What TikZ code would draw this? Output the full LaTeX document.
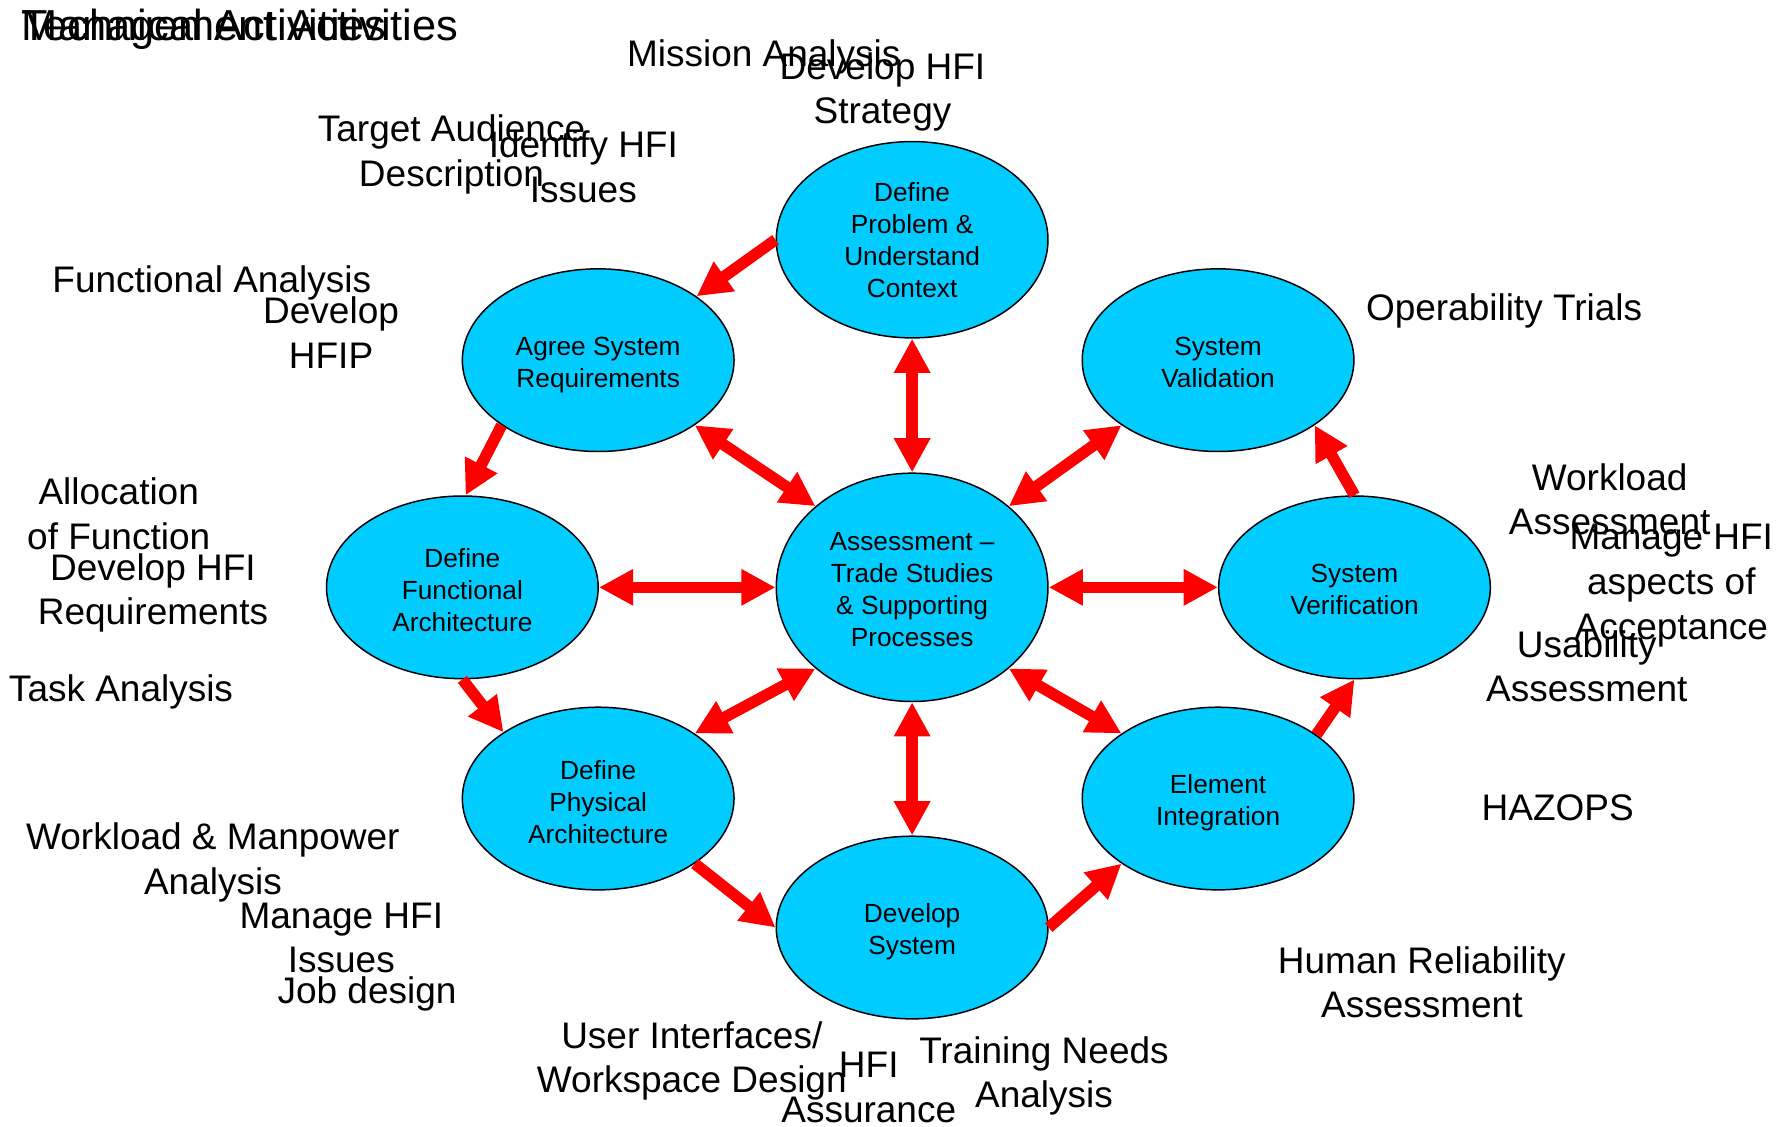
\documentclass[tikz,border=0pt]{standalone}
\usepackage{fontspec}
\setmainfont{Liberation Sans}
\usetikzlibrary{arrows.meta,shapes.geometric}
\definecolor{cyanfill}{RGB}{0,204,255}
\newcommand{\lift}[1]{\rule{0pt}{#1pt}}
\tikzset{
  stage/.style={ellipse, draw=black, line width=1.3pt, fill=cyanfill, inner sep=0pt,
    minimum width=238pt, minimum height=160pt, align=center,
    font=\fontsize{23}{28}\selectfont},
  lbl/.style={align=center, inner sep=0pt, font=\fontsize{32.4}{39}\selectfont},
  ttl/.style={anchor=base west, inner sep=0pt, font=\fontsize{38}{44}\selectfont},
  redtip/.tip={Triangle[width=30pt,length=30pt]},
  flow/.style={draw=red, line width=10pt, -redtip},
  both/.style={draw=red, line width=10pt, redtip-redtip},
}
\begin{document}
\begin{tikzpicture}[x=1pt,y=-1pt]
\useasboundingbox (0,0) rectangle (1568,987);
% stages
\node[stage, minimum height=172pt] (P) at (799,210) {\lift{18}Define\\Problem \&\\Understand\\Context};
\node[stage] (A) at (524,315.5) {\lift{24.5}Agree System\\Requirements};
\node[stage] (V) at (1067,315.5) {\lift{20.5}System\\Validation};
\node[stage] (F) at (405,514.5) {\lift{21}Define\\Functional\\Architecture};
\node[stage, minimum height=200pt] (C) at (799,514.5) {\lift{20.5}Assessment --\\Trade Studies\\\& Supporting\\Processes};
\node[stage] (R) at (1186.5,514.5) {\lift{20.5}System\\Verification};
\node[stage] (Ph) at (524,699.5) {\lift{22.8}Define\\Physical\\Architecture};
\node[stage] (E) at (1067,699.5) {\lift{24.8}Element\\Integration};
\node[stage] (D) at (799,812.5) {\lift{24.8}Develop\\System};
% cycle arrows
\draw[flow] (P.west) -- (A.33);
\draw[flow] (A.214) -- (F.88);
\draw[flow] (F.south) -- (Ph.145);
\draw[flow] (Ph.326) -- (D.west);
\draw[flow] (D.east) -- (E.214);
\draw[flow] (E.33) -- (R.south);
\draw[flow] (R.north) -- (V.326);
% hub arrows
\draw[both] (A.326) -- (C.140);
\draw[both] (P.south) -- (C.north);
\draw[both] (V.214) -- (C.40);
\draw[both] (F.east) -- (C.west);
\draw[both] (C.east) -- (R.west);
\draw[both] (Ph.34) -- (C.220);
\draw[both] (C.south) -- (D.north);
\draw[both] (C.320) -- (E.146);
% labels
\node[ttl] (ttlT) at (19,35.5) {Technical Activities};
\node[ttl] (ttlM) at (19,35.5) {Management Activities};
\node[lbl] (mis) at (669,50) {Mission Analysis};
\node[lbl] (dhs) at (773,80.5) {Develop HFI\\Strategy};
\node[lbl] (tad) at (395.5,135.5) {Target Audience\\Description};
\node[lbl] (ihi) at (511,146) {Identify HFI\\Issues};
\node[lbl] (fan) at (185.5,248) {Functional Analysis};
\node[lbl] (dhfip) at (290,291.5) {Develop\\HFIP};
\node[lbl] (opt) at (1317.5,272) {Operability Trials};
\node[lbl] (aof) at (104,450) {Allocation\\of Function};
\node[lbl] (dhr) at (134,519.5) {Develop HFI\\Requirements};
\node[lbl] (task) at (106,606) {Task Analysis};
\node[lbl] (wla) at (1410,437.5) {Workload\\Assessment};
\node[lbl] (mha) at (1464,513) {Manage HFI\\aspects of\\Acceptance};
\node[lbl] (usa) at (1390,583.5) {Usability\\Assessment};
\node[lbl] (haz) at (1364.5,708) {HAZOPS};
\node[lbl] (hra) at (1245.5,860.5) {Human Reliability\\Assessment};
\node[lbl] (wma) at (186.5,755.5) {Workload \& Manpower\\Analysis};
\node[lbl] (mhi) at (299,821.5) {Manage HFI\\Issues};
\node[lbl] (job) at (321.5,871) {Job design};
\node[lbl] (uiw) at (606,929.5) {User Interfaces/\\Workspace Design};
\node[lbl] (hfa) at (761,952.5) {HFI\\Assurance};
\node[lbl] (tna) at (914.5,942.5) {Training Needs\\Analysis};
\end{tikzpicture}
\end{document}
